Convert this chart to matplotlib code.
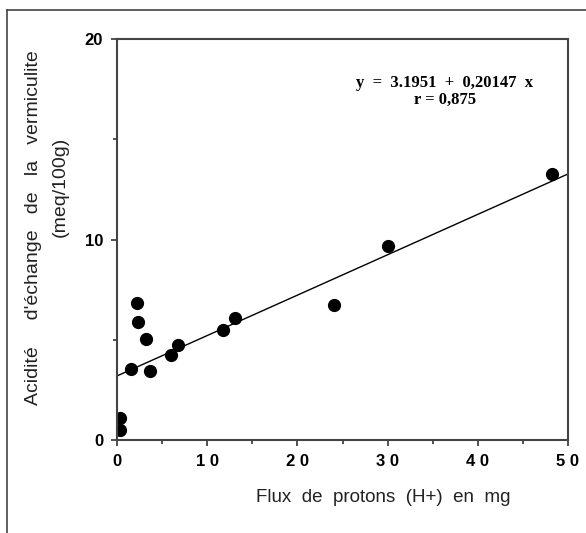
import numpy as np
import matplotlib.pyplot as plt
from matplotlib.lines import Line2D

# flux de protons (mg) et acidité d'échange (meq/100g)
flux = [0.33, 0.33, 1.55, 2.2, 2.3, 3.2, 3.66, 6.0, 6.76, 11.75, 13.1, 24.06, 30.04, 48.2]
acidite = [1.1, 0.5, 3.54, 6.83, 5.9, 5.04, 3.44, 4.24, 4.74, 5.49, 6.08, 6.73, 9.68, 13.27]
a, b = 3.1951, 0.20147
xticks = [0, 10, 20, 30, 40, 50]
xtick_labels = ["0", "1 0", "2 0", "3 0", "4 0", "5 0"]
yticks = [0, 10, 20]

plt.rcParams['font.family'] = ['Liberation Sans', 'DejaVu Sans']

W, H = 586, 533
fig = plt.figure(figsize=(W / 100, H / 100), dpi=100)
ax = fig.add_axes([117 / W, 1 - 440 / H, 451 / W, 401 / H])

xl = np.array([0, 50])
ax.plot(xl, a + b * xl, color='black', linewidth=1.0)
ax.plot(flux, acidite, 'o', color='black', markersize=8.5)

ax.set_xlim(0, 50)
ax.set_ylim(0, 20)
ax.set_xticks(xticks)
ax.set_xticklabels(xtick_labels, fontweight='bold', fontsize=12)
ax.set_xticks([5, 15, 25, 35, 45], minor=True)
ax.set_yticks(yticks)
ax.set_yticklabels([str(v) for v in yticks], fontweight='bold', fontsize=12)
ax.set_yticks([5, 15], minor=True)
ax.tick_params(which='major', direction='out', length=4, width=1.2, color='#333333', pad=6)
ax.tick_params(which='minor', direction='out', length=3, width=1.2, color='#333333')
for s in ax.spines.values():
    s.set_linewidth(1.5)
    s.set_color('#444444')

# titres des axes
fig.text(383 / W, 1 - 497 / H, "Flux  de  protons  (H+)  en  mg", fontsize=13.5,
         ha='center', va='center', color='#222222')
fig.text(34 / W, 1 - 228 / H, "Acidité     d'échange   de   la   vermiculite", fontsize=14,
         ha='center', va='center', rotation=90, rotation_mode='anchor', color='#222222')
fig.text(60 / W, 1 - 187 / H, "(meq/100g)", fontsize=14,
         ha='center', va='center', rotation=90, rotation_mode='anchor', color='#222222')

ax.text(0.727, 0.890, "y  =  3.1951  +  0,20147  x", transform=ax.transAxes,
        ha='center', va='center', fontsize=12, fontweight='bold', family='Liberation Serif')
ax.text(0.727, 0.848, "r = 0,875", transform=ax.transAxes,
        ha='center', va='center', fontsize=12, fontweight='bold', family='Liberation Serif')

# cadre extérieur
fig.add_artist(Line2D([7 / W, 7 / W], [0, 1 - 10 / H], color='#444444', linewidth=1.2))
fig.add_artist(Line2D([7 / W, 1], [1 - 10 / H, 1 - 10 / H], color='#444444', linewidth=1.2))

fig.savefig('out.png', dpi=100)
